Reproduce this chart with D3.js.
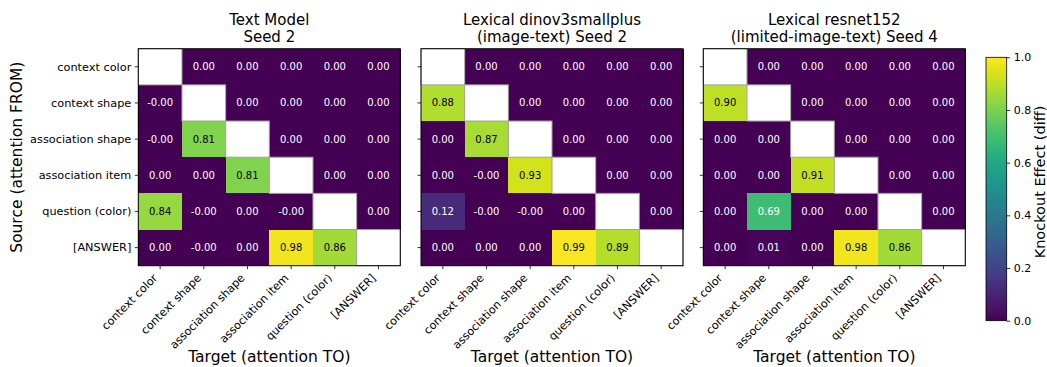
<!DOCTYPE html>
<html>
<head>
<meta charset="utf-8">
<script src="https://cdn.jsdelivr.net/npm/d3@7"></script>
<style>
  body { margin: 0; background: #fff; }
  svg { font-family: "DejaVu Sans", sans-serif; display: block; }
</style>
</head>
<body>
<div id="chart"></div>
<script>
// token labels (rows = source, cols = target)
var tokens = ["context color", "context shape", "association shape", "association item", "question (color)", "[ANSWER]"]

// knockout effects, null = diagonal (masked). small negatives print as -0.00
var textModel = [
  [null, 0.00, 0.00, 0.00, 0.00, 0.00],
  [-0.001, null, 0.00, 0.00, 0.00, 0.00],
  [-0.001, 0.81, null, 0.00, 0.00, 0.00],
  [0.00, 0.00, 0.81, null, 0.00, 0.00],
  [0.84, -0.001, 0.00, -0.001, null, 0.00],
  [0.00, -0.001, 0.00, 0.98, 0.86, null]
]
var dinoModel = [
  [null, 0.00, 0.00, 0.00, 0.00, 0.00],
  [0.88, null, 0.00, 0.00, 0.00, 0.00],
  [0.00, 0.87, null, 0.00, 0.00, 0.00],
  [0.00, -0.001, 0.93, null, 0.00, 0.00],
  [0.12, -0.001, -0.001, 0.00, null, 0.00],
  [0.00, 0.00, 0.00, 0.99, 0.89, null]
]
var resnetModel = [
  [null, 0.00, 0.00, 0.00, 0.00, 0.00],
  [0.90, null, 0.00, 0.00, 0.00, 0.00],
  [0.00, 0.00, null, 0.00, 0.00, 0.00],
  [0.00, 0.00, 0.91, null, 0.00, 0.00],
  [0.00, 0.69, 0.00, 0.00, null, 0.00],
  [0.00, 0.01, 0.00, 0.98, 0.86, null]
]
var titles = [
  ["Text Model", "Seed 2"],
  ["Lexical dinov3smallplus", "(image-text) Seed 2"],
  ["Lexical resnet152", "(limited-image-text) Seed 4"]
]
var colorbarTicks = [0.0, 0.2, 0.4, 0.6, 0.8, 1.0]

var W = 1047, H = 367
var panelLeft = [138.3, 421, 703.3]
var plotTop = 48.7, pw = 262, ph = 217

var svg = d3.select("#chart").append("svg")
    .attr("width", W)
    .attr("height", H)

var color = d3.scaleSequential(d3.interpolateViridis).domain([0, 1])

var x = d3.scaleBand().domain(tokens).range([0, pw])
var y = d3.scaleBand().domain(tokens).range([0, ph])

var fmt = function (v) { return v.toFixed(2) }
var textColor = function (v) {
    var c = d3.rgb(color(v))
    var lum = function (ch) { ch /= 255; return ch <= 0.03928 ? ch / 12.92 : Math.pow((ch + 0.055) / 1.055, 2.4) }
    var L = 0.2126 * lum(c.r) + 0.7152 * lum(c.g) + 0.0722 * lum(c.b)
    return L > 0.408 ? "#000" : "#fff"
}

var panels = [textModel, dinoModel, resnetModel]

panels.forEach(function (matrix, p) {
    var g = svg.append("g")
        .attr("transform", "translate(" + panelLeft[p] + "," + plotTop + ")")

    var cells = []
    matrix.forEach(function (row, i) {
        row.forEach(function (v, j) {
            cells.push({ src: tokens[i], tgt: tokens[j], v: v })
        })
    })

    // coloured cells
    g.selectAll("rect.cell")
        .data(cells.filter(function (d) { return d.v !== null }))
        .enter()
        .append("rect")
        .attr("class", "cell")
        .attr("x", function (d) { return x(d.tgt) })
        .attr("y", function (d) { return y(d.src) })
        .attr("width", x.bandwidth() + 0.5)
        .attr("height", y.bandwidth() + 0.5)
        .attr("shape-rendering", "crispEdges")
        .attr("fill", function (d) { return color(d.v) })

    // masked diagonal
    g.selectAll("rect.diag")
        .data(cells.filter(function (d) { return d.v === null }))
        .enter()
        .append("rect")
        .attr("class", "diag")
        .attr("x", function (d) { return x(d.tgt) })
        .attr("y", function (d) { return y(d.src) })
        .attr("width", x.bandwidth())
        .attr("height", y.bandwidth())
        .attr("fill", "#fff")
        .attr("stroke", "#a0a0a0")
        .attr("stroke-width", 1)

    // annotations
    g.selectAll("text.annot")
        .data(cells.filter(function (d) { return d.v !== null }))
        .enter()
        .append("text")
        .attr("class", "annot")
        .attr("x", function (d) { return x(d.tgt) + x.bandwidth() / 2 })
        .attr("y", function (d) { return y(d.src) + y.bandwidth() / 2 })
        .attr("dy", "0.35em")
        .attr("text-anchor", "middle")
        .style("font-size", "10px")
        .attr("fill", function (d) { return textColor(d.v) })
        .text(function (d) { return fmt(d.v) })

    // frame
    g.append("rect")
        .attr("width", pw)
        .attr("height", ph)
        .attr("fill", "none")
        .attr("stroke", "#000")
        .attr("stroke-width", 1)

    // y axis
    var yAxis = g.append("g")
        .call(d3.axisLeft(y).tickSize(3.5).tickPadding(3.5))
    yAxis.select(".domain").remove()
    yAxis.selectAll(".tick line").attr("stroke", "#000").attr("stroke-width", 0.8)
    yAxis.selectAll(".tick text")
        .style("font-size", "11.3px")
        .attr("fill", "#000")
        .attr("font-family", "DejaVu Sans")
        .attr("dy", "0.34em")
    if (p > 0) yAxis.selectAll(".tick text").remove()

    // x axis
    var xAxis = g.append("g")
        .attr("transform", "translate(0," + ph + ")")
        .call(d3.axisBottom(x).tickSize(3.5).tickPadding(3.5))
    xAxis.select(".domain").remove()
    xAxis.selectAll(".tick line").attr("stroke", "#000").attr("stroke-width", 0.8)
    xAxis.selectAll(".tick text")
        .style("font-size", "11.2px")
        .attr("fill", "#000")
        .attr("font-family", "DejaVu Sans")
        .attr("x", 0)
        .attr("y", 0)
        .attr("dy", 0)
        .attr("text-anchor", "end")
        .attr("transform", "translate(-2,13) rotate(-45)")

    // title
    var t = g.append("text")
        .attr("x", pw / 2)
        .attr("text-anchor", "middle")
        .style("font-size", "15px")
    t.append("tspan").attr("x", pw / 2).attr("y", 25.3 - plotTop).text(titles[p][0])
    t.append("tspan").attr("x", pw / 2).attr("y", 42.3 - plotTop).text(titles[p][1])

    // x label
    g.append("text")
        .attr("x", pw / 2)
        .attr("y", 362.5 - plotTop)
        .attr("text-anchor", "middle")
        .style("font-size", "15.5px")
        .text("Target (attention TO)")
})

// y label
svg.append("text")
    .attr("transform", "translate(22," + (plotTop + ph / 2) + ") rotate(-90)")
    .attr("text-anchor", "middle")
    .style("font-size", "15.5px")
    .text("Source (attention FROM)")

// colorbar
var cbX = 986, cbW = 20.7, cbTop = 57.3, cbBottom = 320.7
var defs = svg.append("defs")
var grad = defs.append("linearGradient")
    .attr("id", "viridis")
    .attr("x1", 0).attr("y1", 1).attr("x2", 0).attr("y2", 0)
d3.range(0, 1.0001, 0.02).forEach(function (s) {
    grad.append("stop").attr("offset", s).attr("stop-color", color(s))
})
svg.append("rect")
    .attr("x", cbX)
    .attr("y", cbTop)
    .attr("width", cbW)
    .attr("height", cbBottom - cbTop)
    .attr("fill", "url(#viridis)")
    .attr("stroke", "#000")
    .attr("stroke-width", 0.8)

var cbScale = d3.scaleLinear().domain([0, 1]).range([cbBottom, cbTop])
var cbAxis = svg.append("g")
    .attr("transform", "translate(" + (cbX + cbW) + ",0)")
    .call(d3.axisRight(cbScale).tickValues(colorbarTicks).tickFormat(d3.format(".1f")).tickSize(3.5).tickPadding(3.5))
cbAxis.select(".domain").remove()
cbAxis.selectAll(".tick line").attr("stroke", "#000").attr("stroke-width", 0.8)
cbAxis.selectAll(".tick text")
    .style("font-size", "11px")
    .attr("fill", "#000")
    .attr("font-family", "DejaVu Sans")

svg.append("text")
    .attr("transform", "translate(1045," + 182 + ") rotate(-90)")
    .attr("text-anchor", "middle")
    .style("font-size", "14.5px")
    .text("Knockout Effect (diff)")
</script>
</body>
</html>
